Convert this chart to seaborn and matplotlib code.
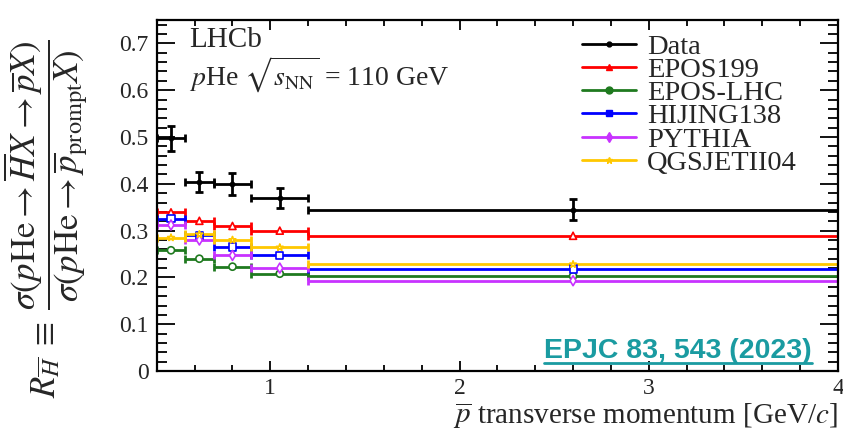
import numpy as np
import pandas as pd
import matplotlib
matplotlib.use("Agg")
import matplotlib.pyplot as plt
from matplotlib.lines import Line2D
from matplotlib.ticker import MultipleLocator, FuncFormatter
import seaborn as sns

# pT bins [GeV/c]
bin_lo = [0.40, 0.55, 0.70, 0.90, 1.20]
bin_hi = [0.55, 0.70, 0.90, 1.20, 4.00]
bin_mid = [0.475, 0.625, 0.80, 1.05, 2.60]

# LHCb data
data_val = [0.497, 0.404, 0.400, 0.370, 0.345]
data_err = [0.027, 0.022, 0.023, 0.021, 0.022]

# model predictions
epos199 = [0.339, 0.321, 0.310, 0.300, 0.289]
epos_lhc = [0.258, 0.240, 0.223, 0.208, 0.203]
hijing138 = [0.325, 0.290, 0.265, 0.247, 0.218]
pythia = [0.312, 0.280, 0.247, 0.220, 0.193]
qgsjet = [0.285, 0.292, 0.280, 0.264, 0.228]

model_names = ["EPOS199", "EPOS-LHC", "HIJING138", "PYTHIA", "QGSJETII04"]
model_vals = [epos199, epos_lhc, hijing138, pythia, qgsjet]
model_cols = ["#ff0000", "#1f7a1f", "#0000ff", "#c832ff", "#ffc800"]
model_mk = ["^", "o", "s", "d", "*"]

sns.set_style("ticks")
plt.rcParams["font.family"] = ["Liberation Serif", "DejaVu Serif"]
plt.rcParams["mathtext.fontset"] = "stix"

fig = plt.figure(figsize=(8.43, 4.34), dpi=100)
ax = fig.add_axes([0.186, 0.145, 0.808, 0.809])

lo = np.array(bin_lo)
hi = np.array(bin_hi)
mid = np.array(bin_mid)
xerr = [mid - lo, hi - mid]

rows = []
for name, vals in zip(model_names, model_vals):
    for m, v in zip(bin_mid, vals):
        rows.append({"pt": m, "R": v, "model": name})
df = pd.DataFrame(rows)

for name, vals, c in zip(model_names, model_vals, model_cols):
    ax.errorbar(mid, vals, xerr=xerr, fmt="none", ecolor=c, elinewidth=2.0,
                capsize=3, capthick=2.0, zorder=2)

sns.scatterplot(data=df, x="pt", y="R", hue="model", style="model",
                palette=dict(zip(model_names, model_cols)),
                markers=dict(zip(model_names, model_mk)),
                s=26, linewidth=1.2, legend=False, ax=ax, zorder=3)
# open markers: edge colour per model
coll = ax.collections[-1]
coll.set_edgecolors(coll.get_facecolors())
coll.set_facecolors("white")

ax.errorbar(mid, data_val, xerr=xerr, yerr=data_err, fmt="o", color="black",
            markersize=3.2, elinewidth=2.0, capsize=3, capthick=2.0, zorder=4)

ax.set_xlim(0.4, 4.0)
ax.set_ylim(0, 0.75)
ax.set_xlabel("")
ax.set_ylabel("")
ax.xaxis.set_major_locator(MultipleLocator(1))
ax.xaxis.set_minor_locator(MultipleLocator(0.2))
ax.yaxis.set_major_locator(MultipleLocator(0.1))
ax.yaxis.set_minor_locator(MultipleLocator(0.02))
ax.yaxis.set_major_formatter(FuncFormatter(lambda v, p: "%g" % round(v, 2)))
ax.tick_params(axis="both", which="both", direction="in", top=True, right=True,
               labelsize=17, width=1.3, color="black")
ax.tick_params(axis="x", which="major", length=7, pad=5)
ax.tick_params(axis="x", which="minor", length=4)
ax.tick_params(axis="y", which="major", length=13, pad=6)
ax.tick_params(axis="y", which="minor", length=7)
for s in ax.spines.values():
    s.set_linewidth(1.6)
    s.set_color("black")

handles = [Line2D([], [], color="black", lw=2, marker="o", markersize=3.5)]
for c, mk in zip(model_cols, model_mk):
    handles.append(Line2D([], [], color=c, lw=2, marker=mk, markersize=5,
                          markerfacecolor=c))
leg = ax.legend(handles, ["Data"] + model_names, loc="upper left",
                bbox_to_anchor=(0.599, 1.008), frameon=False, fontsize=20.5,
                handlelength=1.9, handletextpad=0.4, labelspacing=-0.1,
                borderpad=0.1)

ax.text(0.048, 0.98, "LHCb", transform=ax.transAxes, fontsize=21,
        va="top", ha="left")
ax.text(0.048, 0.9, r"$p$He $\sqrt{s_{\rm NN}}$ = 110 GeV",
        transform=ax.transAxes, fontsize=20, va="top", ha="left")

fig.text(0.994, 0.008, r"$\overline{p}$ transverse momentum [GeV/$c$]",
         fontsize=21, ha="right", va="bottom")

fig.text(0.054, 0.497,
         r"$R_{\overline{H}} \;\equiv\; \dfrac{\sigma(p\mathrm{He} \rightarrow \overline{H}X \rightarrow \overline{p}X)}"
         r"{\sigma(p\mathrm{He} \rightarrow \overline{p}_{\mathrm{prompt}}X)}$",
         fontsize=25, rotation=90, ha="center", va="center")

ref = fig.text(812 / 843, (434 - 351) / 434, "EPJC 83, 543 (2023)",
               color="#1a9ba1", fontsize=20.5, fontweight="bold",
               family="Liberation Sans", ha="right", va="center")
fig.canvas.draw()
bb = ref.get_window_extent().transformed(fig.transFigure.inverted())
fig.add_artist(Line2D([bb.x0, bb.x1], [bb.y0 + 0.002, bb.y0 + 0.002],
                      transform=fig.transFigure, color="#1a9ba1", lw=2))

fig.savefig("out.png", dpi=100)
